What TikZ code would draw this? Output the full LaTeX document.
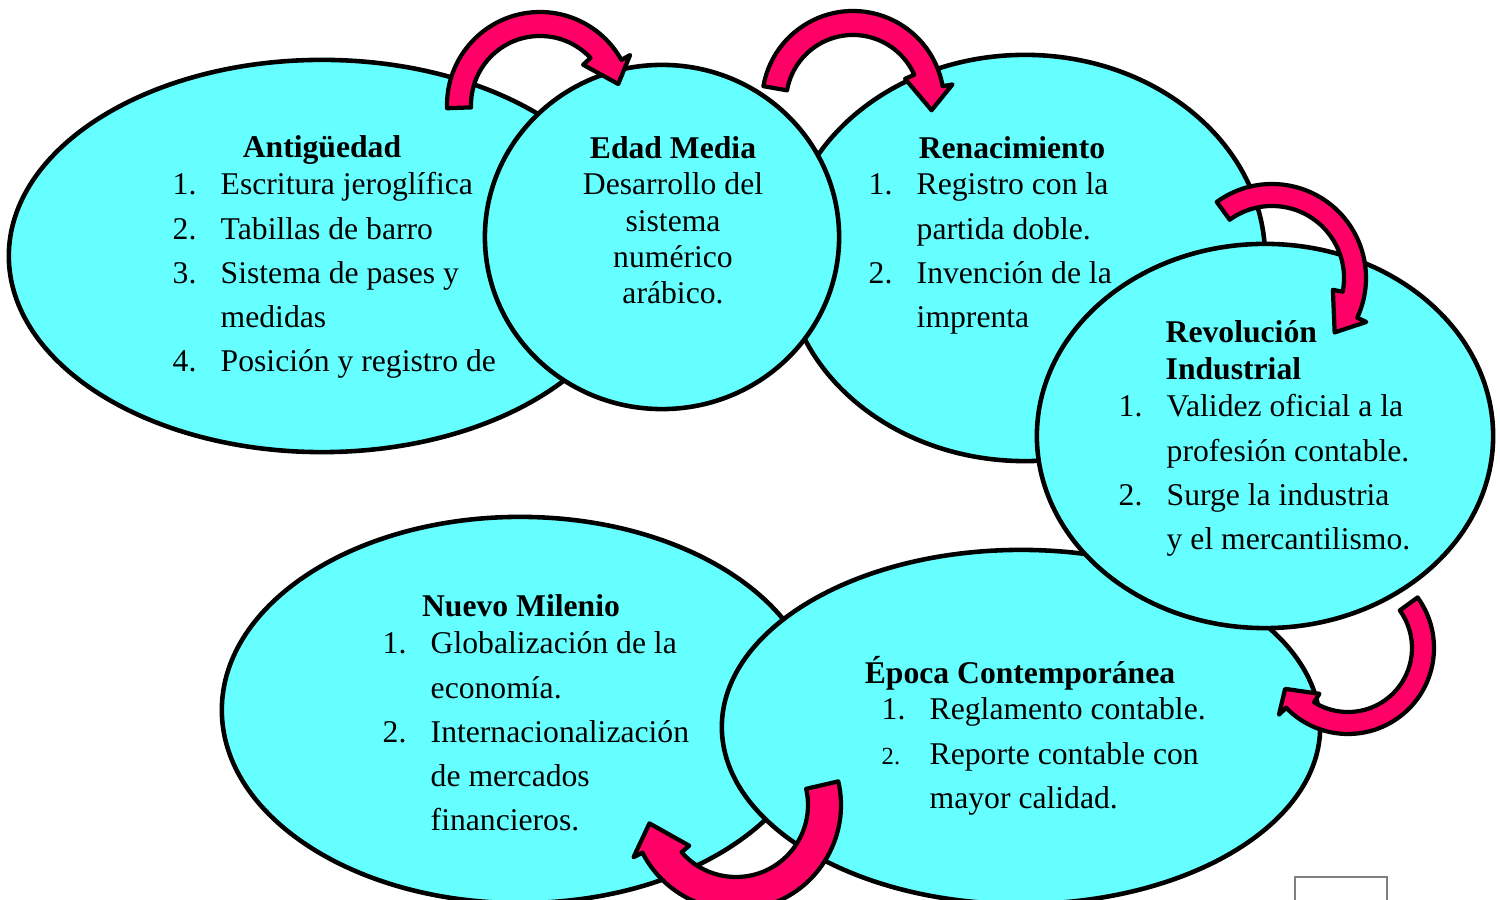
\documentclass[tikz,border=0pt]{standalone}
\usepackage{fontspec}
\setmainfont{Liberation Serif}
\usepackage{tikz}
\usetikzlibrary{shapes.geometric}

\definecolor{eracyan}{HTML}{66FFFF}
\definecolor{arrowpink}{HTML}{FF0066}

\tikzset{
  era/.style={ellipse, draw=black, line width=1.3pt, fill=eracyan, inner sep=0pt},
  title/.style={anchor=base, inner sep=0pt, font=\fontsize{9}{10.5}\selectfont\bfseries},
  list/.style={anchor=base west, inner sep=0pt, font=\fontsize{9}{12.52}\selectfont},
  bent/.style={draw=black, fill=arrowpink, line width=1.2pt, line join=round}
}

\newcommand{\itemno}[1]{\makebox[0.48cm][l]{#1}}
% center, inner radius, outer radius, tail angle, shaft end angle, tip angle
\newcommand{\bentarrow}[6]{%
  \begin{scope}[shift={(#1)}]
    \draw[bent] (#4:#3) arc[start angle=#4, end angle=#5-7, radius=#3]
      -- ({#5-7}:{#3+10}) -- ({#6}:{(#2+#3)/2}) -- ({#5+7}:{#2-10})
      -- ({#5+7}:#2) arc[start angle=#5+7, end angle=#4, radius=#2] -- cycle;
  \end{scope}}

\begin{document}
\begin{tikzpicture}
  [x=0.01cm, y=0.01cm]
   \useasboundingbox (0,0) rectangle (1500,900);
   \clip (0,0) rectangle (1500,900);
   % eras
   \node[era, minimum width=6.26cm, minimum height=3.92cm] (ant) at (322,644) {};
   \node[era, minimum width=4.80cm, minimum height=4.06cm] (ren) at (1025,642) {};
   \node[era, minimum width=3.54cm, minimum height=3.44cm] (edad) at (662,663) {};
   \node[era, minimum width=5.96cm, minimum height=3.86cm] (nue) at (520,190) {};
   \node[era, minimum width=5.98cm, minimum height=3.54cm] (epo) at (1021,173) {};
   \node[era, minimum width=4.56cm, minimum height=3.84cm] (rev) at (1265,464) {};
   \draw[gray, line width=0.5pt] (1295,23) rectangle (1387,-10);
   % texts
   \node[title] (ant-title) at (322,742) {Antigüedad};
   \node[list] (ant-list) at (172,705) {\begin{tabular}[t]{@{}l@{}}
     \itemno{1.}Escritura jeroglífica\\ \itemno{2.}Tabillas de barro\\
     \itemno{3.}Sistema de pases y\\ \itemno{}medidas\\
     \itemno{4.}Posición y registro de\end{tabular}};
   \node[title] (edad-title) at (673,741) {Edad Media};
   \node[list, anchor=base, font=\fontsize{9}{10.24}\selectfont] (edad-list) at (673,705)
     {\begin{tabular}[t]{@{}c@{}}Desarrollo del\\ sistema\\ numérico\\ arábico.\end{tabular}};
   \node[title] (ren-title) at (1012,741) {Renacimiento};
   \node[list] (ren-list) at (868,705) {\begin{tabular}[t]{@{}l@{}}
     \itemno{1.}Registro con la\\ \itemno{}partida doble.\\
     \itemno{2.}Invención de la\\ \itemno{}imprenta\end{tabular}};
   \node[title, anchor=base west] (rev-title) at (1165,557)
     {\begin{tabular}[t]{@{}l@{}}Revolución\\ Industrial\end{tabular}};
   \node[list] (rev-list) at (1118,483) {\begin{tabular}[t]{@{}l@{}}
     \itemno{1.}Validez oficial a la\\ \itemno{}profesión contable.\\
     \itemno{2.}Surge la industria\\ \itemno{}y el mercantilismo.\end{tabular}};
   \node[title] (epo-title) at (1020,216) {Época Contemporánea};
   \node[list] (epo-list) at (881,180) {\begin{tabular}[t]{@{}l@{}}
     \itemno{1.}Reglamento contable.\\ \itemno{\fontsize{7}{8}\selectfont 2.}Reporte contable con\\
     \itemno{}mayor calidad.\end{tabular}};
   \node[title] (nue-title) at (521,283) {Nuevo Milenio};
   \node[list] (nue-list) at (382,246) {\begin{tabular}[t]{@{}l@{}}
     \itemno{1.}Globalización de la\\ \itemno{}economía.\\
     \itemno{2.}Internacionalización\\ \itemno{}de mercados\\
     \itemno{}financieros.\end{tabular}};
   % arrows
   \bentarrow{540,795}{69}{93}{182}{36}{15}
   \bentarrow{853,798}{67}{91}{170}{17}{-6}
   \bentarrow{1272,622}{72}{94}{126}{-18}{-41}
   \bentarrow{1348,252}{64}{86}{36}{-129}{-147}
   \bentarrow{736,95}{72}{105}{13}{-146}{-168}
\end{tikzpicture}
\end{document}
